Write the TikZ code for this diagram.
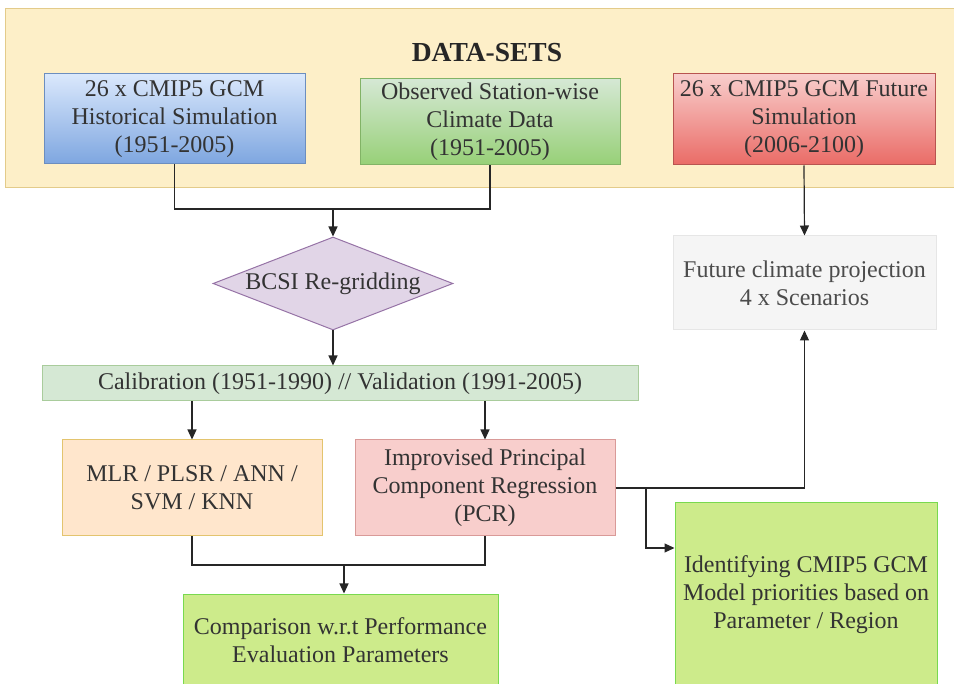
\documentclass[tikz,border=0pt]{standalone}
\usepackage{fontspec}
\setmainfont{Liberation Serif}
\usepackage{xcolor}
\usetikzlibrary{shapes.geometric,arrows.meta}

\definecolor{setfill}{HTML}{FDEFC8}
\definecolor{setdraw}{HTML}{E3CB8A}
\definecolor{bluetop}{HTML}{DAE8FC}
\definecolor{bluebot}{HTML}{7EA6E0}
\definecolor{bluedraw}{HTML}{6C8EBF}
\definecolor{greentop}{HTML}{D5E8D4}
\definecolor{greenbot}{HTML}{97D077}
\definecolor{greendraw}{HTML}{82B366}
\definecolor{redtop}{HTML}{F8CECC}
\definecolor{redbot}{HTML}{EA6B66}
\definecolor{reddraw}{HTML}{B85450}
\definecolor{purplefill}{HTML}{E1D5E7}
\definecolor{purpledraw}{HTML}{9673A6}
\definecolor{calibfill}{HTML}{D5E8D4}
\definecolor{calibdraw}{HTML}{A9CC9C}
\definecolor{orangefill}{HTML}{FFE6CC}
\definecolor{orangedraw}{HTML}{E3C46E}
\definecolor{pinkfill}{HTML}{F8CECC}
\definecolor{pinkdraw}{HTML}{D99A98}
\definecolor{limefill}{HTML}{CDEB8B}
\definecolor{limedraw}{HTML}{79D94F}
\definecolor{greyfill}{HTML}{F5F5F5}
\definecolor{greydraw}{HTML}{E6E6E6}

\begin{document}
\begin{tikzpicture}[x=1pt,y=-1pt,
  box/.style={rectangle, align=center, text=black!80, inner sep=0pt, line width=1pt,
    font=\fontsize{24}{28}\selectfont},
  line/.style={draw=black!85, line width=1.2pt},
  arr/.style={line, -{Triangle[length=10pt,width=9pt]}}]
\useasboundingbox (0,0) rectangle (954,684);
\clip (0,0) rectangle (954,684);

\node[box, draw=setdraw, fill=setfill, minimum width=955pt, minimum height=179pt] (datasets) at (482.5,98.5) {};
\node[font=\fontsize{27.5}{30}\selectfont\bfseries, text=black!85] (title) at (487,53) {DATA-SETS};

\node[box, draw=bluedraw, top color=bluetop, bottom color=bluebot, minimum width=261pt, minimum height=90pt] (hist) at (174.5,119) {26 x CMIP5 GCM\\Historical Simulation\\(1951-2005)};
\node[box, draw=greendraw, top color=greentop, bottom color=greenbot, minimum width=260pt, minimum height=86pt] (obs) at (490,122) {Observed Station-wise\\Climate Data\\(1951-2005)};
\node[box, draw=reddraw, top color=redtop, bottom color=redbot, minimum width=262pt, minimum height=91pt] (fut) at (804,119.5) {26 x CMIP5 GCM Future\\Simulation\\(2006-2100)};

\node[box, diamond, aspect=2.58, draw=purpledraw, fill=purplefill, minimum width=240pt, minimum height=93pt] (regrid) at (333,283.5) {BCSI Re-gridding};
\node[box, draw=greydraw, fill=greyfill, minimum width=263pt, minimum height=94pt, text=black!70] (proj) at (804.5,283) {Future climate projection\\4 x Scenarios};

\node[box, draw=calibdraw, fill=calibfill, minimum width=596pt, minimum height=35pt] (calib) at (340,383.5) {Calibration (1951-1990) // Validation (1991-2005)};

\node[box, draw=orangedraw, fill=orangefill, minimum width=260pt, minimum height=96pt] (mlr) at (192,488) {MLR / PLSR / ANN /\\SVM / KNN};
\node[box, draw=pinkdraw, fill=pinkfill, minimum width=260pt, minimum height=96pt] (pcr) at (485,488) {Improvised Principal\\Component Regression\\(PCR)};

\node[box, draw=limedraw, fill=limefill, minimum width=315pt, minimum height=92pt] (compare) at (340.5,640) {Comparison w.r.t Performance\\Evaluation Parameters};
\node[box, draw=limedraw, fill=limefill, minimum width=262pt, minimum height=184pt] (ident) at (806,595) {Identifying CMIP5 GCM\\Model priorities based on\\Parameter / Region};

\coordinate (merge) at (333,209);
\coordinate (join) at (344,565);
\coordinate (split) at (646,488);

\draw[line] (hist.south) |- (merge) -| (obs.south);
\draw[arr] (merge) -- (regrid.north);
\draw[arr] (regrid.south) -- (regrid.south |- calib.north);
\draw[arr] (mlr.north |- calib.south) -- (mlr.north);
\draw[arr] (pcr.north |- calib.south) -- (pcr.north);
\draw[line] (mlr.south) |- (join) -| (pcr.south);
\draw[arr] (join) -- (join |- compare.north);
\draw[arr] (fut.south) -- (proj.north);
\draw[arr] (pcr.east) -| (proj.south);
\draw[arr] (split) |- ([yshift=47pt]ident.west);

\end{tikzpicture}
\end{document}
